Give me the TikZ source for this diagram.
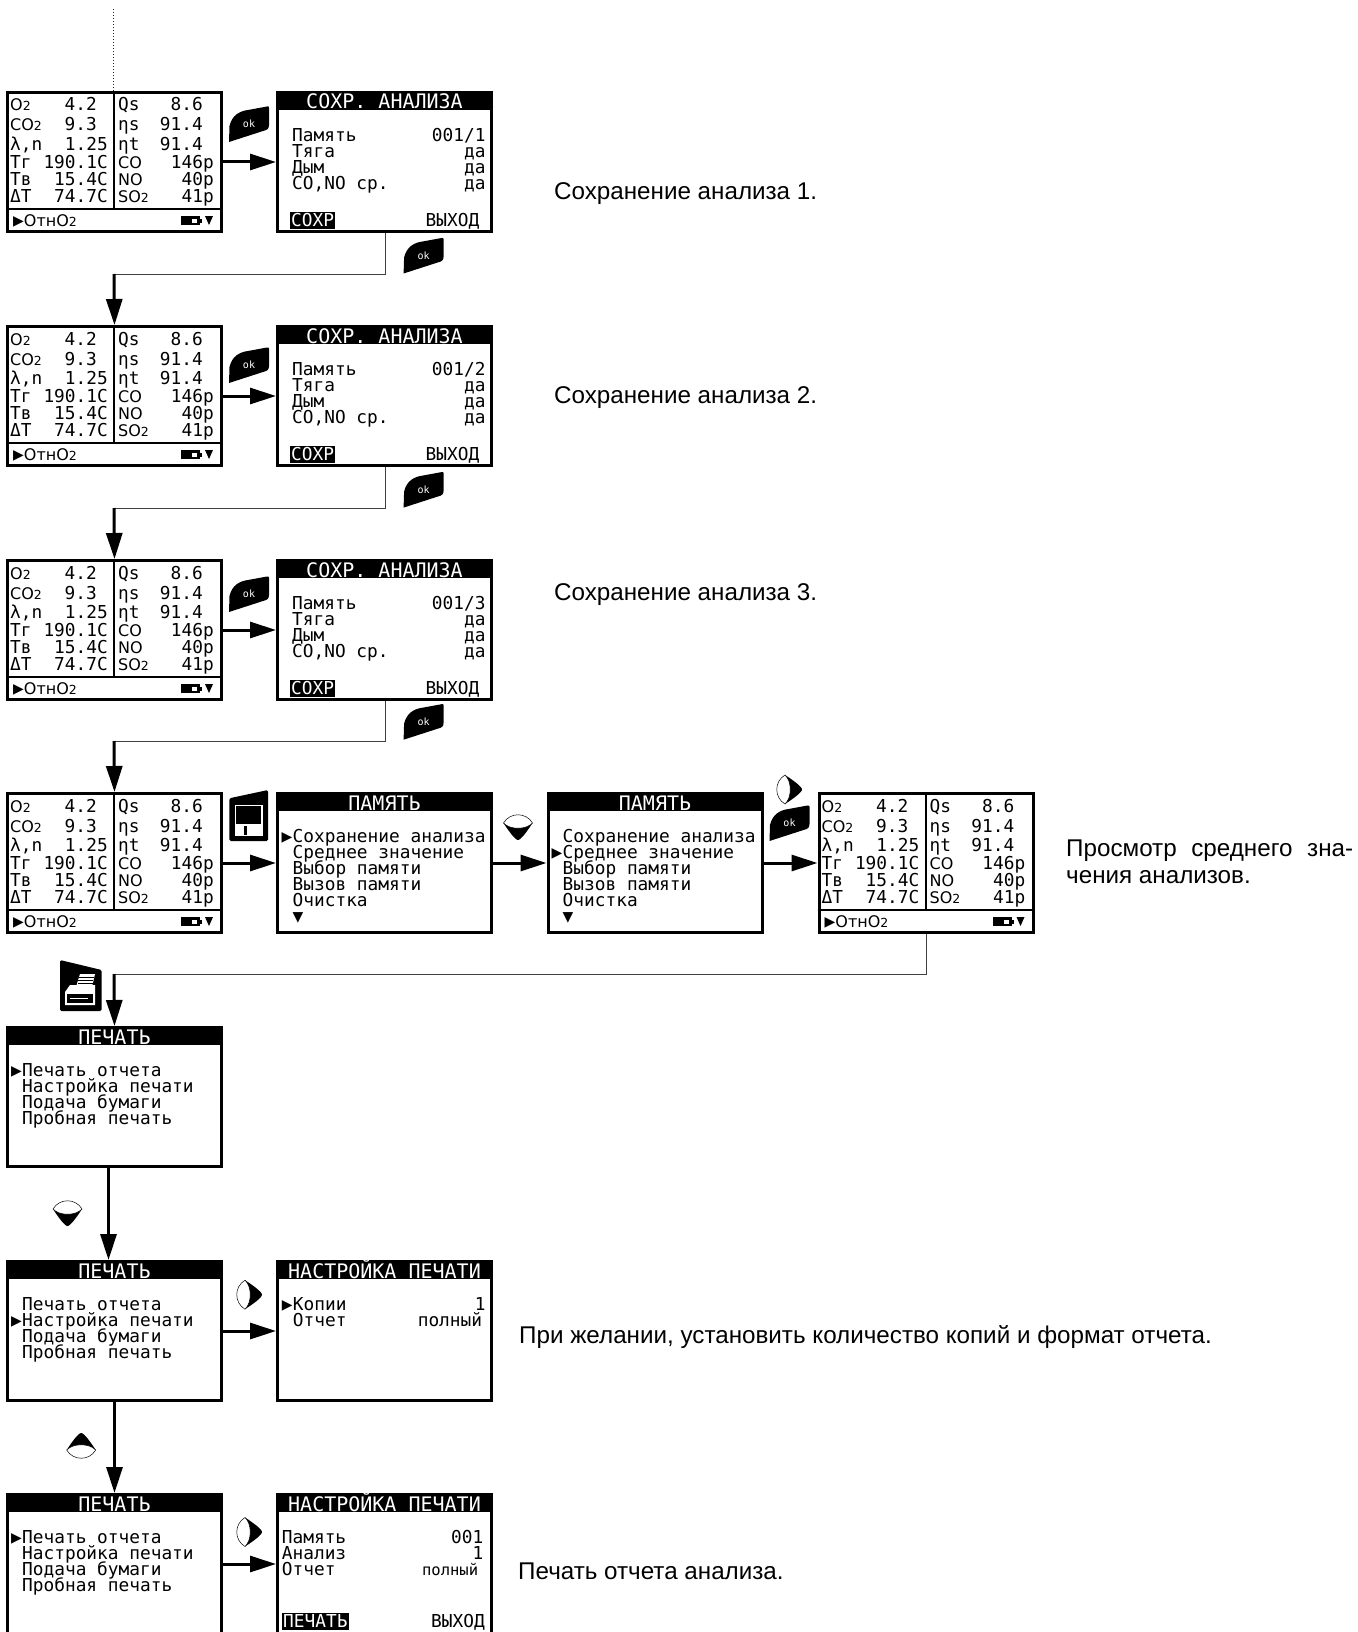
\documentclass[tikz,border=0pt]{standalone}
\usepackage{fontspec}
\usetikzlibrary{arrows.meta}
\setmainfont{Liberation Sans}
\newfontfamily\lcdfamily{DejaVu Sans Mono}
\newfontfamily\gasfamily{DejaVu Sans}
\newcommand{\lcdfont}{\lcdfamily\fontsize{17.8}{16}\selectfont}
\newcommand{\lowtwo}{{\fontsize{12.5}{12}\selectfont 2}}
\newcommand{\gas}[1]{{\gasfamily\fontsize{16}{16}\selectfont #1}}
\tikzset{
  screen/.style={draw=black,line width=3pt,fill=white,minimum width=214pt,minimum height=139pt,inner sep=0pt},
  lcdtxt/.style={anchor=base west,inner sep=0pt,font=\lcdfont},
  lcdval/.style={anchor=base east,inner sep=0pt,font=\lcdfont},
  titletxt/.style={anchor=base,inner sep=0pt,text=white,font=\lcdfamily\fontsize{20}{20}\selectfont},
  softkey/.style={anchor=west,inner xsep=1pt,inner ysep=0pt,minimum height=17pt,fill=black,text=white,font=\lcdfont},
  notetxt/.style={anchor=base west,inner sep=0pt,font=\fontsize{24.2}{27.5}\selectfont},
  bigarrow/.style={line width=3pt,-{Triangle[length=26pt,width=16pt]}},
  thinline/.style={draw=black!75,line width=1pt},
}
% screen with a black title bar: name, left, top, title
\newcommand{\menuscreen}[4]{
  \node (#1) [screen] at (#2+108.5,#3+71) {};
  \fill[black] (#2,#3) rectangle (#2+217,#3+19);
  \node (#1title) [titletxt] at (#2+108.5,#3+18) {#4};
}
% menu lines, 16 apart: name, x, first baseline, list
\newcommand{\menulines}[4]{
  \foreach \txt [count=\n] in {#4} {
    \node (#1line\n) [lcdtxt] at (#2,#3+16*\n-16) {\txt};
  }
}
% measurement screen: name, left, top
\newcommand{\datascreen}[3]{
  \node (#1) [screen] at (#2+108.5,#3+71) {};
  \draw[line width=2pt] (#2+108,#3) -- (#2+108,#3+118);
  \draw[line width=2pt] (#2,#3+118) -- (#2+217,#3+118);
  \foreach \yy/\la/\va/\xa/\lb/\vb/\xb [count=\n] in {
    20/\gas{O\lowtwo}/4.2/91/Qs/8.6/197,
    40/\gas{CO\lowtwo}/9.3/91/ηs/91.4/197,
    59.5/{λ,n}/1.25/102/ηt/91.4/197,
    77.5/Тг/190.1C/102/\gas{CO}/146p/208,
    94.5/Тв/15.4C/102/\gas{NO}/40p/208,
    111.5/ΔT/74.7C/102/\gas{SO\lowtwo}/41p/208} {
    \node (#1a\n) [lcdtxt] at (#2+4,#3+\yy) {\la};
    \node (#1b\n) [lcdval] at (#2+\xa,#3+\yy) {\va};
    \node (#1c\n) [lcdtxt] at (#2+112,#3+\yy) {\lb};
    \node (#1d\n) [lcdval] at (#2+\xb,#3+\yy) {\vb};
  }
  \node (#1strip) [lcdtxt] at (#2+7,#3+135) {▶\gas{ОтнО\lowtwo}};
  \fill[black] (#2+175,#3+125) rectangle (#2+194,#3+134);
  \fill[black] (#2+194,#3+127.5) rectangle (#2+196,#3+131.5);
  \fill[white] (#2+186,#3+127.5) rectangle (#2+191,#3+131.5);
  \fill[black] (#2+199,#3+125) -- (#2+207,#3+125) -- (#2+203,#3+134) -- cycle;
}
% store screen: name, left, top, memory number
\newcommand{\savescreen}[4]{
  \menuscreen{#1}{#2}{#3}{СОХР. АНАЛИЗА}
  \menulines{#1}{#2+16}{#3+50.7}{Память,Тяга,Дым,{CO,NO ср.}}
  \node (#1v1) [lcdval] at (#2+209.7,#3+50.7) {#4};
  \node (#1v2) [lcdval] at (#2+209.7,#3+66.7) {да};
  \node (#1v3) [lcdval] at (#2+209.7,#3+82.7) {да};
  \node (#1v4) [lcdval] at (#2+209.7,#3+98.7) {да};
  \node (#1save) [softkey] at (#2+14,#3+129) {СОХР};
  \node (#1exit) [lcdval] at (#2+203.5,#3+135) {ВЫХОД};
  \coordinate (#1out) at (#2+109.5,#3+142);
}
% ok key: name, centre
\newcommand{\okkey}[3]{
  \fill[black,shift={(#2,#3)}] (-20,18) -- (-19.5,2) .. controls (-17,-9) and (-9,-13) .. (-1,-14)
    -- (18,-17.5) .. controls (19.5,-18) and (20,-17.5) .. (20,-16) -- (20,1) .. controls (20,5) and (18,6) .. (14,7) -- cycle;
  \node (#1) [inner sep=0pt,text=white,font=\lcdfamily\fontsize{10}{10}\selectfont] at (#2,#3) {ok};
}
% arrow key: centre, angle (0 down, 90 right, 180 up)
\newcommand{\lenskey}[3]{
  \begin{scope}[shift={(#1,#2)},rotate=#3]
    \fill[black] (-14.5,-4) .. controls (-10,3) and (-3,13) .. (0,13) .. controls (3,13) and (10,3) .. (14.5,-4) -- cycle;
    \draw[black,line width=0.5pt,fill=white] (-14.5,-4) .. controls (-8,-15) and (8,-15) .. (14.5,-4) .. controls (8,3) and (-8,3) .. (-14.5,-4) -- cycle;
  \end{scope}
}
\begin{document}
\begin{tikzpicture}[x=1pt,y=-1pt]
\useasboundingbox (0,0) rectangle (1357,1632);
\clip (0,0) rectangle (1357,1632);
\foreach \r/\ytop in {1/91,2/325,3/559} {
  \datascreen{d\r}{6}{\ytop}
  \savescreen{s\r}{276}{\ytop}{001/\r}
}
\datascreen{d4}{6}{792}
\menuscreen{m1}{276}{792}{ПАМЯТЬ}
\menulines{m1}{292.5}{842.4}{Сохранение анализа,Среднее значение,Выбор памяти,Вызов памяти,Очистка,▼}
\node (m1mark) [lcdval] at (292.5,842.4) {▶};
\menuscreen{m2}{546.5}{792}{ПАМЯТЬ}
\menulines{m2}{562.5}{842.4}{Сохранение анализа,Среднее значение,Выбор памяти,Вызов памяти,Очистка,▼}
\node (m2mark) [lcdval] at (562.5,858.4) {▶};
\datascreen{d5}{817.5}{792}
\menuscreen{p1}{6}{1026}{ПЕЧАТЬ}
\menulines{p1}{22}{1076}{Печать отчета,Настройка печати,Подача бумаги,Пробная печать}
\node (p1mark) [lcdval] at (22,1076) {▶};
\menuscreen{p2}{6}{1260}{ПЕЧАТЬ}
\menulines{p2}{22}{1310}{Печать отчета,Настройка печати,Подача бумаги,Пробная печать}
\node (p2mark) [lcdval] at (22,1326) {▶};
\menuscreen{p3}{6}{1493}{ПЕЧАТЬ}
\menulines{p3}{22}{1543}{Печать отчета,Настройка печати,Подача бумаги,Пробная печать}
\node (p3mark) [lcdval] at (22,1543) {▶};
\menuscreen{c1}{276}{1260}{НАСТРОЙКА ПЕЧАТИ}
\menulines{c1}{292.7}{1310}{Копии,Отчет}
\node (c1mark) [lcdval] at (292.7,1310) {▶};
\node (c1v1) [lcdval] at (485.7,1310) {1};
\node (c1v2) [lcdval] at (482.3,1326) {полный};
\menuscreen{c2}{276}{1493}{НАСТРОЙКА ПЕЧАТИ}
\menulines{c2}{281.7}{1543.5}{Память,Анализ,Отчет}
\node (c2v1) [lcdval] at (483.5,1543.5) {001};
\node (c2v2) [lcdval] at (483.5,1559.5) {1};
\node (c2v3) [lcdval,font=\lcdfamily\fontsize{15.5}{16}\selectfont] at (478.3,1575.5) {полный};
\node (c2print) [softkey] at (282,1621) {ПЕЧАТЬ};
\node (c2exit) [lcdval] at (485,1627) {ВЫХОД};
% sentences
\node (note1) [notetxt] at (554,200) {Сохранение анализа 1.};
\node (note2) [notetxt] at (554,403) {Сохранение анализа 2.};
\node (note3) [notetxt] at (554,600) {Сохранение анализа 3.};
\node (note4) [notetxt,anchor=west,align=left] at (1066,862) {\makebox[287pt][s]{Просмотр среднего зна-}\\чения анализов.};
\node (note5) [notetxt] at (519,1343) {При желании, установить количество копий и формат отчета.};
\node (note6) [notetxt] at (518,1579) {Печать отчета анализа.};
% keys
\okkey{ok1}{249}{124}
\okkey{ok2}{423.6}{255.5}
\okkey{ok3}{249}{365}
\okkey{ok4}{423.6}{489.6}
\okkey{ok5}{249}{594}
\okkey{ok6}{423.6}{721.7}
\okkey{ok7}{789.5}{823}
\lenskey{518}{827}{0}
\lenskey{789}{789.5}{90}
\lenskey{67.5}{1213}{0}
\lenskey{249}{1294.7}{90}
\lenskey{81.2}{1446}{180}
\lenskey{249}{1532}{90}
% floppy
\fill[black,rounded corners=1.5pt] (229.3,841) -- (229.3,798.3) -- (268,790) -- (268,841) -- cycle;
\fill[white] (235,804.5) rectangle (262.5,835.5);
\fill[black] (236.3,805.8) rectangle (261.2,824);
\fill[black] (243.5,826) rectangle (247,834.5);
% printer
\fill[black,rounded corners=1.5pt] (60,1011) -- (60,960) -- (101.7,970) -- (101.7,1011) -- cycle;
\fill[white] (80,974) -- (95,974) -- (92,987) -- (76,987) -- cycle;
\draw[black,line width=0.5pt] (79,977) -- (93.5,977) (78,980) -- (93,980) (77.5,983) -- (92.5,983);
\fill[white] (65,992) -- (70,985) -- (95,985) -- (95,1005) -- (65,1005) -- cycle;
\fill[black] (67,994) rectangle (93,1003);
\fill[white] (70,998) rectangle (88,999);
% connectors
\coordinate (start) at (113,9);
\coordinate (startend) at (113,91);
\draw[black!85,line width=1pt,dash pattern=on 1.5pt off 1.5pt] (start) -- (startend);
\foreach \r in {1,2,3} {
  \draw[bigarrow] (d\r.east) -- (s\r.west);
}
\coordinate (t1) at (114,274);
\coordinate (t2) at (114,508);
\coordinate (t3) at (114,741);
\coordinate (t4) at (114,974);
\coordinate (p1out) at (108.5,1166);
\coordinate (p2in) at (108.5,1260);
\draw[thinline] (s1out) |- (t1);
\draw[thinline] (s2out) |- (t2);
\draw[thinline] (s3out) |- (t3);
\draw[thinline] (d5.south) |- (t4);
\draw[bigarrow] (t1) -- (d2.north);
\draw[bigarrow] (t2) -- (d3.north);
\draw[bigarrow] (t3) -- (d4.north);
\draw[bigarrow] (t4) -- (p1.north);
\draw[bigarrow] (d4.east) -- (m1.west);
\draw[bigarrow] (m1.east) -- (m2.west);
\draw[bigarrow] (m2.east) -- (d5.west);
\draw[bigarrow] (p1out) -- (p2in);
\draw[bigarrow] (p2.south) -- (p3.north);
\draw[bigarrow] (p2.east) -- (c1.west);
\draw[bigarrow] (p3.east) -- (c2.west);
\end{tikzpicture}
\end{document}
